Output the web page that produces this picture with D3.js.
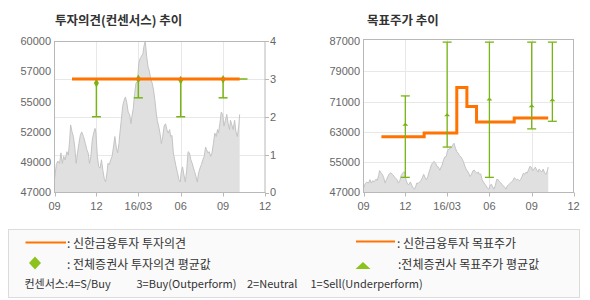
<!DOCTYPE html>
<html><head><meta charset="utf-8">
<script src="https://cdn.jsdelivr.net/npm/d3@7"></script>
<style>
body{margin:0;background:#fff;}
svg{display:block;font-family:"Liberation Sans",Arial,sans-serif;}
.kr{font-family:"Noto Sans CJK KR","Noto Sans",sans-serif;}
</style>
</head><body><svg id="c" width="590" height="300"></svg>
<script>
// ---------- DATA ----------
const priceDates = ["2015-09-01","2015-09-05","2015-09-08","2015-09-12","2015-09-15","2015-09-18","2015-09-21","2015-09-24","2015-09-28","2015-10-01","2015-10-04","2015-10-06","2015-10-09","2015-10-12","2015-10-15","2015-10-18","2015-10-21","2015-10-24","2015-10-27","2015-10-30","2015-11-03","2015-11-07","2015-11-10","2015-11-13","2015-11-16","2015-11-19","2015-11-22","2015-11-25","2015-11-28","2015-11-30","2015-12-03","2015-12-06","2015-12-09","2015-12-12","2015-12-15","2015-12-18","2015-12-21","2015-12-24","2015-12-26","2015-12-29","2016-01-01","2016-01-04","2016-01-07","2016-01-10","2016-01-13","2016-01-16","2016-01-19","2016-01-21","2016-01-24","2016-01-27","2016-01-30","2016-02-02","2016-02-05","2016-02-08","2016-02-11","2016-02-14","2016-02-16","2016-02-19","2016-02-22","2016-02-25","2016-02-28","2016-03-02","2016-03-05","2016-03-08","2016-03-11","2016-03-13","2016-03-16","2016-03-19","2016-03-22","2016-03-25","2016-03-28","2016-03-31","2016-04-03","2016-04-06","2016-04-09","2016-04-11","2016-04-14","2016-04-17","2016-04-20","2016-04-23","2016-04-26","2016-04-29","2016-05-02","2016-05-05","2016-05-08","2016-05-10","2016-05-13","2016-05-16","2016-05-19","2016-05-22","2016-05-25","2016-05-28","2016-05-31","2016-06-02","2016-06-05","2016-06-08","2016-06-11","2016-06-14","2016-06-17","2016-06-20","2016-06-23","2016-06-26","2016-06-28","2016-07-01","2016-07-04","2016-07-07","2016-07-10","2016-07-13","2016-07-16","2016-07-19","2016-07-22","2016-07-25","2016-07-27","2016-07-30","2016-08-02","2016-08-05","2016-08-08","2016-08-11","2016-08-14","2016-08-17","2016-08-20","2016-08-22","2016-08-25","2016-08-28","2016-08-31","2016-09-03","2016-09-06","2016-09-09","2016-09-12","2016-09-15","2016-09-17","2016-09-20","2016-09-23","2016-09-26","2016-09-29","2016-10-02","2016-10-05","2016-10-07"];
const prices = [48100,49400,49700,49500,50400,49500,50100,49800,50500,50200,51500,52800,52200,51800,50900,49500,50400,51200,51900,52200,51800,51200,50700,50400,49500,50100,51500,52100,52500,52100,50100,49200,49100,49800,48900,48200,47900,48700,49500,49400,49800,50100,50900,51800,50900,50400,51200,52100,53200,54400,54900,55200,54700,53900,53700,52900,53500,54200,55500,56400,56500,58100,58500,58700,58900,59500,60000,58700,57800,57400,56700,56400,55800,54900,53800,53200,52700,52100,51200,51800,52700,52900,52400,52100,52400,51800,51900,50400,49800,49200,48700,48100,47900,48700,49200,48500,47900,48900,50500,50400,49800,49500,49200,48800,48400,47900,48700,49100,49400,49800,50100,50900,50700,50400,50500,50100,50400,51200,52100,51800,52400,52100,52900,53900,53700,52700,53200,53700,52900,52400,53200,52800,52400,53200,52200,51800,52700,53700];

const opinionLineDates = ["2015-10-09","2016-10-07"];
const opinionLineValues = [3,3];
const consensusLineDates = ["2015-10-09","2016-10-24"];
const consensusLineValues = [3,3];
const opinionBarDates = ["2015-12-01","2016-03-01","2016-06-01","2016-09-01"];
const opinionBarMin = [2,2.5,2,2.5];
const opinionBarMax = [3,3,3,3];
const opinionBarAvg = [2.89,3.0,2.97,2.99];

const targetDates = ["2015-10-10","2016-01-11","2016-03-22","2016-04-13","2016-05-04","2016-07-25","2016-10-07"];
const targetValues = [61700,62700,74700,69700,65600,66700,66700];
const targetBarDates = ["2015-12-01","2016-03-01","2016-06-01","2016-09-01","2016-10-16"];
const targetBarMin = [51000,59000,51000,63800,65800];
const targetBarMax = [72500,86700,86700,86700,86700];
const targetBarAvg = [65000,67500,71700,69900,71500];

const xTickDates = ["2015-09-01","2015-12-01","2016-03-01","2016-06-01","2016-09-01","2016-12-01"];
const xTickLabels = ["09","12","16/03","06","09","12"];
const leftTickValues = [47000,49600,52200,54800,57400,60000];
const leftTickLabels = ["47000","49000","52000","55000","57000","60000"];
const opinionTickValues = [0,1,2,3,4];
const targetTickValues = [47000,55000,63000,71000,79000,87000];

// ---------- DRAW ----------
const P = d3.timeParse("%Y-%m-%d");
const svg = d3.select("#c");
const ORANGE = "#ff7300", GREEN = "#78b414", FILL = "#e0e0e0", LINEG = "#c4c4c4";
const FRAME = "#b8b8b8", GRID = "#e8e8e8", LBL = "#666";
const priceData = priceDates.map((d,i)=>({d:P(d), v:prices[i]}));
const domainX = [P(xTickDates[0]), P(xTickDates[xTickDates.length-1])];

function panel(x0, x1, yTop, frameTop, yBot){
  const x = d3.scaleTime().domain(domainX).range([x0, x1]);
  const g = svg.append("g");
  g.selectAll(".vg").data(xTickDates.slice(1,-1)).join("line")
    .attr("x1", d=>Math.round(x(P(d)))+0.5).attr("x2", d=>Math.round(x(P(d)))+0.5)
    .attr("y1", frameTop).attr("y2", yBot).attr("stroke", GRID);
  g.selectAll(".xt").data(xTickDates).join("line")
    .attr("x1", d=>Math.round(x(P(d)))+0.5).attr("x2", d=>Math.round(x(P(d)))+0.5)
    .attr("y1", yBot).attr("y2", yBot+4).attr("stroke", FRAME);
  g.selectAll(".xl").data(xTickDates).join("text")
    .attr("x", d=>x(P(d))).attr("y", yBot+17).attr("text-anchor","middle")
    .attr("fill", LBL).attr("font-size", 11).text((d,i)=>xTickLabels[i]);
  return {x, g};
}

// ===== LEFT PANEL =====
const L = panel(54.5, 265, 41, 41, 192.5);
const yPriceL = d3.scaleLinear().domain([47000,60000]).range([192.5, 41]);
const yOp = d3.scaleLinear().domain([0,4]).range([192.5, 41]);
L.g.selectAll(".hg").data(opinionTickValues.slice(1,-1)).join("line")
  .attr("x1", 54.5).attr("x2", 265).attr("y1", d=>Math.round(yOp(d))+0.5).attr("y2", d=>Math.round(yOp(d))+0.5)
  .attr("stroke", GRID);
L.g.append("path").datum(priceData)
  .attr("d", d3.area().x(d=>L.x(d.d)).y0(192.5).y1(d=>yPriceL(d.v)))
  .attr("fill", FILL);
L.g.append("path").datum(priceData)
  .attr("d", d3.line().x(d=>L.x(d.d)).y(d=>yPriceL(d.v)))
  .attr("fill","none").attr("stroke", LINEG).attr("stroke-width",1);
L.g.append("rect").attr("x",54.5).attr("y",41.5).attr("width",210.5).attr("height",151)
  .attr("fill","none").attr("stroke",FRAME);
L.g.selectAll(".yl").data(leftTickValues).join("text")
  .attr("x", 51).attr("y", d=>yPriceL(d)).attr("dy","0.36em").attr("text-anchor","end")
  .attr("fill", LBL).attr("font-size", 11).text((d,i)=>leftTickLabels[i]);
L.g.selectAll(".yrt").data(opinionTickValues).join("line")
  .attr("x1",265).attr("x2",269).attr("y1",d=>Math.round(yOp(d))+0.5).attr("y2",d=>Math.round(yOp(d))+0.5)
  .attr("stroke",FRAME);
L.g.selectAll(".yr").data(opinionTickValues).join("text")
  .attr("x", 270).attr("y", d=>yOp(d)).attr("dy","0.36em")
  .attr("fill", LBL).attr("font-size", 11).text(d=>d);
L.g.append("path").datum(consensusLineDates.map((d,i)=>({d:P(d),v:consensusLineValues[i]})))
  .attr("d", d3.line().x(d=>L.x(d.d)).y(d=>yOp(d.v)))
  .attr("stroke", GREEN).attr("stroke-width",1.5).attr("fill","none");
const opBars = opinionBarDates.map((d,i)=>({d:P(d),lo:opinionBarMin[i],hi:opinionBarMax[i],avg:opinionBarAvg[i]}));
const ob = L.g.selectAll(".ob").data(opBars).join("g");
ob.append("line").attr("x1",d=>L.x(d.d)).attr("x2",d=>L.x(d.d)).attr("y1",d=>yOp(d.lo)).attr("y2",d=>yOp(d.hi))
  .attr("stroke",GREEN).attr("stroke-width",1.5);
ob.append("line").attr("x1",d=>L.x(d.d)-4.5).attr("x2",d=>L.x(d.d)+4.5).attr("y1",d=>yOp(d.lo)).attr("y2",d=>yOp(d.lo))
  .attr("stroke",GREEN).attr("stroke-width",1.5);
ob.append("line").attr("x1",d=>L.x(d.d)-4.5).attr("x2",d=>L.x(d.d)+4.5).attr("y1",d=>yOp(d.hi)).attr("y2",d=>yOp(d.hi))
  .attr("stroke",GREEN).attr("stroke-width",1.5);
L.g.append("path").datum(opinionLineDates.map((d,i)=>({d:P(d),v:opinionLineValues[i]})))
  .attr("d", d3.line().x(d=>L.x(d.d)).y(d=>yOp(d.v)))
  .attr("stroke", ORANGE).attr("stroke-width",3).attr("fill","none");
ob.append("path").attr("transform",d=>`translate(${L.x(d.d)},${yOp(d.avg)})`)
  .attr("d", d3.symbol(d3.symbolDiamond, 22)).attr("fill",GREEN);

// ===== RIGHT PANEL =====
const R = panel(363.5, 573.5, 41, 39.5, 192.5);
const yT = d3.scaleLinear().domain([47000,87000]).range([192.5, 41]);
R.g.selectAll(".hg").data(targetTickValues.slice(1,-1)).join("line")
  .attr("x1", 363.5).attr("x2", 573.5).attr("y1", d=>Math.round(yT(d))+0.5).attr("y2", d=>Math.round(yT(d))+0.5)
  .attr("stroke", GRID);
R.g.append("path").datum(priceData)
  .attr("d", d3.area().x(d=>R.x(d.d)).y0(192.5).y1(d=>yT(d.v)))
  .attr("fill", FILL);
R.g.append("path").datum(priceData)
  .attr("d", d3.line().x(d=>R.x(d.d)).y(d=>yT(d.v)))
  .attr("fill","none").attr("stroke", LINEG).attr("stroke-width",1);
R.g.append("rect").attr("x",363.5).attr("y",39.5).attr("width",210).attr("height",153)
  .attr("fill","none").attr("stroke",FRAME);
R.g.selectAll(".yl").data(targetTickValues).join("text")
  .attr("x", 360).attr("y", d=>yT(d)).attr("dy","0.36em").attr("text-anchor","end")
  .attr("fill", LBL).attr("font-size", 11).text(d=>d);
R.g.append("path").datum(targetDates.map((d,i)=>({d:P(d),v:targetValues[i]})))
  .attr("d", d3.line().curve(d3.curveStepAfter).x(d=>R.x(d.d)).y(d=>yT(d.v)))
  .attr("stroke", ORANGE).attr("stroke-width",3).attr("fill","none");
const tBars = targetBarDates.map((d,i)=>({d:P(d),lo:targetBarMin[i],hi:targetBarMax[i],avg:targetBarAvg[i]}));
const tb = R.g.selectAll(".tb").data(tBars).join("g");
tb.append("line").attr("x1",d=>R.x(d.d)).attr("x2",d=>R.x(d.d)).attr("y1",d=>yT(d.lo)).attr("y2",d=>yT(d.hi))
  .attr("stroke",GREEN).attr("stroke-width",1.3);
tb.append("line").attr("x1",d=>R.x(d.d)-4.5).attr("x2",d=>R.x(d.d)+4.5).attr("y1",d=>yT(d.lo)).attr("y2",d=>yT(d.lo))
  .attr("stroke",GREEN).attr("stroke-width",1.3);
tb.append("line").attr("x1",d=>R.x(d.d)-4.5).attr("x2",d=>R.x(d.d)+4.5).attr("y1",d=>yT(d.hi)).attr("y2",d=>yT(d.hi))
  .attr("stroke",GREEN).attr("stroke-width",1.3);
tb.append("path").attr("transform",d=>`translate(${R.x(d.d)},${yT(d.avg)})`)
  .attr("d","M-3,1.5L0,-1.5L3,1.5Z").attr("fill",GREEN);

// ===== TITLES =====
svg.append("text").attr("class","kr").attr("x",55).attr("y",25).attr("font-size",12.5).attr("font-weight","bold")
  .attr("fill","#333").text("투자의견(컨센서스) 추이");
svg.append("text").attr("class","kr").attr("x",367).attr("y",25).attr("font-size",12.5).attr("font-weight","bold")
  .attr("fill","#333").text("목표주가 추이");

// ===== LEGEND =====
const lg = svg.append("g");
lg.append("rect").attr("x",8.5).attr("y",229.5).attr("width",571).attr("height",68)
  .attr("fill","#fafafa").attr("stroke","#dcdcdc");
lg.append("line").attr("x1",25.5).attr("x2",66).attr("y1",242.5).attr("y2",242.5).attr("stroke",ORANGE).attr("stroke-width",2);
lg.append("line").attr("x1",356).attr("x2",395).attr("y1",241.5).attr("y2",241.5).attr("stroke",ORANGE).attr("stroke-width",2);
lg.append("path").attr("transform","translate(35,263)").attr("d","M0,-6.5L6,0L0,6.5L-6,0Z").attr("fill","#8cc21e");
lg.append("path").attr("transform","translate(363,266)").attr("d","M-7.5,3L0,-4L7.5,3Z").attr("fill","#8cc21e");
const legTexts = [
  {x:67, y:244, t:": 신한금융투자 투자의견", s:12},
  {x:397, y:244, t:": 신한금융투자 목표주가", s:12},
  {x:67, y:264.5, t:": 전체증권사 투자의견 평균값", s:12},
  {x:398, y:264.5, t:":전체증권사 목표주가 평균값", s:12},
  {x:24.5, y:284.5, t:"컨센서스:4=S/Buy", s:11},
  {x:136.5, y:284.5, t:"3=Buy(Outperform)", s:11},
  {x:247, y:284.5, t:"2=Neutral", s:11},
  {x:310.5, y:284.5, t:"1=Sell(Underperform)", s:11}
];
lg.selectAll(".lt").data(legTexts).join("text").attr("class","kr")
  .attr("x",d=>d.x).attr("y",d=>d.y).attr("dy","0.35em").attr("font-size",d=>d.s)
  .attr("fill","#333").text(d=>d.t);
</script>
</body></html>
